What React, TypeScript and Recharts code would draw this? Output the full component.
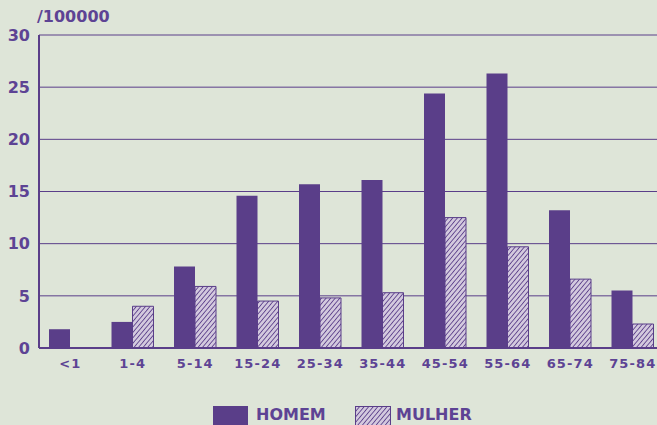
import React from "react";
import { BarChart, Bar, XAxis, YAxis, CartesianGrid } from "recharts";

const categories = ["<1", "1-4", "5-14", "15-24", "25-34", "35-44", "45-54", "55-64", "65-74", "75-84"];
const homem = [1.8, 2.5, 7.8, 14.6, 15.7, 16.1, 24.4, 26.3, 13.2, 5.5];
const mulher = [0, 4.0, 5.9, 4.5, 4.8, 5.3, 12.5, 9.7, 6.6, 2.3];
const yTicks = [0, 5, 10, 15, 20, 25, 30];
const seriesNames = ["HOMEM", "MULHER"];
const unitLabel = "/100000";

const data = categories.map((c, i) => ({ cat: c, homem: homem[i], mulher: mulher[i] }));

const PURPLE = "#5a3e89";
const TEXT = "#5d4394";
const BG = "#dee5d8";
const HATCH_BG = "#d3c9de";
const FONT = "'DejaVu Sans', sans-serif";

export default function App() {
  return (
    <div style={{ position: "absolute", left: 0, top: 0, width: 657, height: 425, overflow: "hidden", background: BG, fontFamily: FONT }}>
      <svg width={0} height={0} style={{ position: "absolute" }}>
        <defs>
          <pattern id="hatchL" width="3.5" height="3.5" patternUnits="userSpaceOnUse" patternTransform="rotate(40)">
            <rect width="3.5" height="3.5" fill={HATCH_BG} />
            <line x1="0" y1="0" x2="0" y2="3.5" stroke={PURPLE} strokeWidth="1.7" />
          </pattern>
        </defs>
      </svg>
      <div style={{ position: "absolute", left: 0, top: 0 }}>
        <BarChart width={670} height={425} data={data} margin={{ top: 35, right: 6, bottom: 47, left: 0 }} barGap={0} barCategoryGap="16%">
          <defs>
            <pattern id="hatch" width="3.5" height="3.5" patternUnits="userSpaceOnUse" patternTransform="rotate(40)">
              <rect width="3.5" height="3.5" fill={HATCH_BG} />
              <line x1="0" y1="0" x2="0" y2="3.5" stroke={PURPLE} strokeWidth="1.7" />
            </pattern>
          </defs>
          <CartesianGrid vertical={false} stroke={PURPLE} strokeWidth={1} />
          <XAxis
            dataKey="cat"
            height={30}
            tickLine={false}
            tickSize={0}
            tickMargin={11}
            axisLine={{ stroke: PURPLE, strokeWidth: 2 }}
            interval={0}
            tick={{ fill: TEXT, fontSize: 13, fontWeight: "bold", fontFamily: FONT, letterSpacing: 1.1 }}
          />
          <YAxis
            width={39}
            domain={[0, 30]}
            ticks={yTicks}
            tickLine={false}
            tickSize={0}
            tickMargin={9}
            axisLine={{ stroke: PURPLE, strokeWidth: 2 }}
            tick={{ fill: TEXT, fontSize: 16, fontWeight: "bold", fontFamily: FONT }}
          />
          <Bar dataKey="homem" name={seriesNames[0]} fill={PURPLE} isAnimationActive={false} />
          <Bar dataKey="mulher" name={seriesNames[1]} fill="url(#hatch)" stroke={PURPLE} strokeWidth={1} isAnimationActive={false} />
        </BarChart>
      </div>
      <div style={{ position: "absolute", left: 37, top: 7, color: TEXT, fontSize: 16, fontWeight: "bold", lineHeight: "20px" }}>{unitLabel}</div>
      <div style={{ position: "absolute", left: 213, top: 406, width: 35, height: 20, background: PURPLE }} />
      <div style={{ position: "absolute", left: 256, top: 407, color: TEXT, fontSize: 16, fontWeight: "bold", lineHeight: "15px" }}>{seriesNames[0]}</div>
      <svg style={{ position: "absolute", left: 355, top: 406 }} width={36} height={20}>
        <rect x={0.5} y={0.5} width={35} height={19} fill="url(#hatchL)" stroke={PURPLE} />
      </svg>
      <div style={{ position: "absolute", left: 396, top: 407, color: TEXT, fontSize: 16, fontWeight: "bold", lineHeight: "15px" }}>{seriesNames[1]}</div>
    </div>
  );
}
